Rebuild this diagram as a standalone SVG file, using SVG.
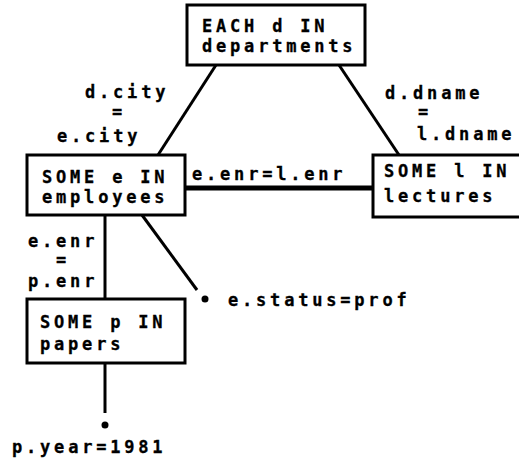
<svg xmlns="http://www.w3.org/2000/svg" width="519" height="461" viewBox="0 0 519 461">
<style>
text{font-family:"DejaVu Sans Mono","Liberation Mono",monospace;font-weight:bold;font-size:17px;letter-spacing:3.8px;fill:#000;stroke:#000;stroke-width:0.3}
.box{fill:#fff;stroke:#000;stroke-width:3}
.e{stroke:#000;stroke-width:3;fill:none}
.thick{stroke:#000;stroke-width:5;fill:none}
</style>
<rect width="519" height="461" fill="#fff"/>
<g id="connectors">
<line class="e" x1="216" y1="65" x2="158" y2="155"/>
<line class="e" x1="339" y1="65" x2="399" y2="155"/>
<line class="thick" x1="185" y1="188" x2="373" y2="188"/>
<line class="e" x1="105" y1="215" x2="105" y2="299"/>
<line class="e" x1="142" y1="215" x2="197" y2="290"/>
<line class="e" x1="105" y1="363" x2="105" y2="413"/>
<circle cx="205" cy="299" r="3.5"/>
<circle cx="105" cy="425" r="3.5"/>
<text x="85" y="98">d.city</text>
<text x="112" y="118">=</text>
<text x="57" y="142">e.city</text>
<text x="385" y="99">d.dname</text>
<text x="418" y="118">=</text>
<text x="417" y="140">l.dname</text>
<text x="192" y="180">e.enr=l.enr</text>
<text x="28" y="247">e.enr</text>
<text x="56" y="266">=</text>
<text x="28" y="287">p.enr</text>
<text x="228" y="306">e.status=prof</text>
<text x="12" y="453">p.year=1981</text>
</g>
<g id="each-d">
<rect class="box" x="187" y="5" width="178" height="60"/>
<text x="202" y="32">EACH d IN</text>
<text x="202" y="52">departments</text>
</g>
<g id="some-e">
<rect class="box" x="27" y="155" width="158" height="60"/>
<text x="42" y="183">SOME e IN</text>
<text x="42" y="203">employees</text>
</g>
<g id="some-l">
<rect class="box" x="373" y="155" width="150" height="62"/>
<text x="384" y="177">SOME l IN</text>
<text x="384" y="202">lectures</text>
</g>
<g id="some-p">
<rect class="box" x="27" y="299" width="158" height="64"/>
<text x="40" y="328">SOME p IN</text>
<text x="40" y="350">papers</text>
</g>
</svg>
